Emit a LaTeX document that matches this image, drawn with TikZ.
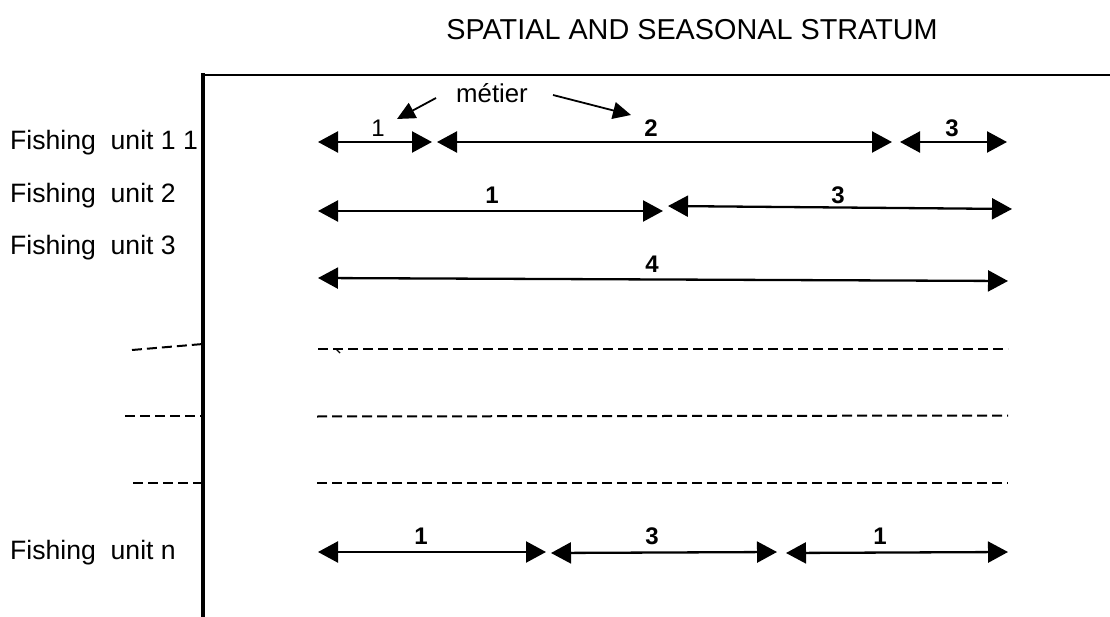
\documentclass[tikz,border=0pt]{standalone}
\usepackage{fontspec}
\setmainfont{Liberation Sans}
\usetikzlibrary{arrows.meta}
\tikzset{
  seg/.style={line width=2.3pt, {Triangle[length=20pt,width=21pt]}-{Triangle[length=20pt,width=21pt]}},
  pointer/.style={line width=1.8pt, -{Triangle[length=18pt,width=17pt]}},
  dashline/.style={line width=2pt, dash pattern=on 10pt off 5pt},
  unitlbl/.style={anchor=west, inner sep=0pt, font=\fontsize{26.6}{31}\selectfont},
  numlbl/.style={inner sep=0pt, font=\fontsize{24}{28}\selectfont\bfseries},
  numreg/.style={inner sep=0pt, font=\fontsize{24}{28}\selectfont},
}
\begin{document}
\begin{tikzpicture}[x=1pt,y=-1pt]
\useasboundingbox (0,0) rectangle (1110,617);
% title
\node[inner sep=0pt, font=\fontsize{28.8}{34}\selectfont] (title) at (692,30) {SPATIAL AND SEASONAL STRATUM};
% axes
\coordinate (axTop) at (203,73.5);
\coordinate (axBot) at (203,617);
\coordinate (topR) at (1110,75);
\draw[line width=3.5pt] (axTop) -- (axBot);
\draw[line width=2.6pt] (201.5,75) -- (topR);
% left labels
\node[unitlbl] (u1) at (10,143) {Fishing\ \ unit 1 1};
\node[unitlbl] (u2) at (10,196) {Fishing\ \ unit 2};
\node[unitlbl] (u3) at (10,248) {Fishing\ \ unit 3};
\node[unitlbl] (un) at (10,553) {Fishing\ \ unit n};
% metier
\node[inner sep=0pt, font=\fontsize{25.8}{30}\selectfont] (metier) at (492,93) {métier};
\coordinate (mL0) at (436,98);
\coordinate (mL1) at (397,119);
\coordinate (mR0) at (553,95);
\coordinate (mR1) at (631,115);
\draw[pointer] (mL0) -- (mL1);
\draw[pointer] (mR0) -- (mR1);
% row 1
\coordinate (a1) at (318,142); \coordinate (b1) at (432,142);
\coordinate (c1) at (437,142); \coordinate (d1) at (892,142);
\coordinate (e1) at (900,142); \coordinate (f1) at (1007,142);
\draw[seg] (a1) -- (b1);
\draw[seg] (c1) -- (d1);
\draw[seg] (e1) -- (f1);
\node[numreg] (r1n1) at (378,128) {1};
\node[numlbl] (r1n2) at (651,128) {2};
\node[numlbl] (r1n3) at (952,128) {3};
% row 2
\coordinate (a2) at (318,211); \coordinate (b2) at (663,211);
\coordinate (c2) at (668,206); \coordinate (d2) at (1012,209);
\draw[seg] (a2) -- (b2);
\draw[seg] (c2) -- (d2);
\node[numlbl] (r2n1) at (492,195) {1};
\node[numlbl] (r2n3) at (838,195) {3};
% row 3
\coordinate (a3) at (318,278); \coordinate (b3) at (1008,281);
\draw[seg] (a3) -- (b3);
\node[numlbl] (r3n4) at (652,264) {4};
% dashed rows
\coordinate (da0) at (132,350); \coordinate (da1) at (203,344);
\coordinate (db0) at (125,416); \coordinate (db1) at (203,416);
\coordinate (dc0) at (133,483); \coordinate (dc1) at (203,483);
\draw[dashline] (da0) -- (da1);
\draw[dashline] (db0) -- (db1);
\draw[dashline] (dc0) -- (dc1);
\coordinate (ra0) at (318,349); \coordinate (ra1) at (1008,349);
\coordinate (rb0) at (317,416.5); \coordinate (rb1) at (1008,415.5);
\coordinate (rc0) at (317,483); \coordinate (rc1) at (1008,483);
\draw[dashline] (ra0) -- (ra1);
\draw[dashline] (rb0) -- (rb1);
\draw[dashline] (rc0) -- (rc1);
\coordinate (tk0) at (336,349); \coordinate (tk1) at (340,353);
\draw[line width=1.4pt] (tk0) -- (tk1);
% row n
\coordinate (an) at (318,552); \coordinate (bn) at (546,552);
\coordinate (cn) at (551,553); \coordinate (dn) at (777,552);
\coordinate (en) at (786,553); \coordinate (fn) at (1008,552);
\draw[seg] (an) -- (bn);
\draw[seg] (cn) -- (dn);
\draw[seg] (en) -- (fn);
\node[numlbl] (rnn1) at (421,536) {1};
\node[numlbl] (rnn3) at (652,536) {3};
\node[numlbl] (rnn1b) at (880,536) {1};
\end{tikzpicture}
\end{document}
